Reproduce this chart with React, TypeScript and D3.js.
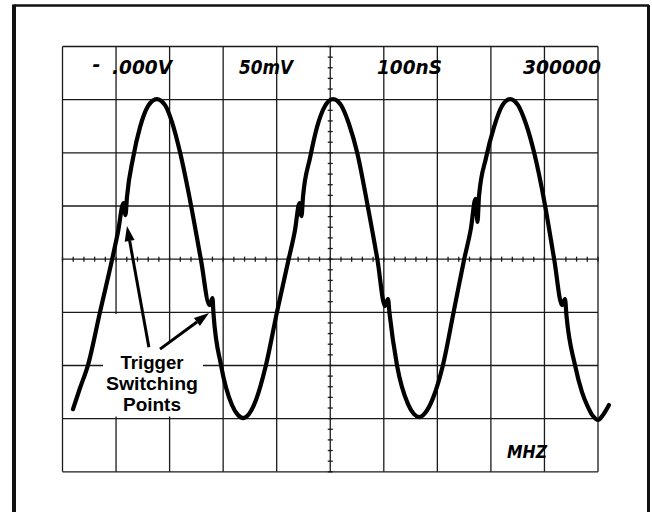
import React from "react";
import * as d3 from "d3";

// Oscilloscope readout (top row) and frequency unit
const readoutOffset = "- .000V";
const readoutVolts = "50mV";
const readoutTime = "100nS";
const readoutCount = "300000";
const readoutUnit = "MHZ";

// Graticule: 10 x 100 ns horizontally, 8 x 50 mV vertically
const timeTicksNs = d3.range(0, 1001, 100);
const voltTicksMv = d3.range(-200, 201, 50);
const minorTimeTicksNs = d3.range(0, 1001, 20);
const minorVoltTicksMv = d3.range(-200, 201, 10);

// Trace (time in ns, amplitude in mV)
const traceTimeNs = [
  19.6, 32.7, 47.6, 70.0, 92.4, 103.6, 113.9, 117.6, 120.4, 131.7, 144.8, 159.7, 175.9,
  191.5, 204.5, 219.4, 239.9, 258.6, 274.5, 280.1, 282.0, 296.0, 316.5, 327.7, 337.6,
  348.3, 361.3, 380.0, 400.5, 422.0, 434.2, 442.6, 446.3, 449.1, 462.2, 475.3, 490.2, 505.2,
  520.1, 535.0, 550.0, 569.6, 588.2, 602.2, 607.8, 610.6, 624.6, 645.2, 656.4, 666.3,
  676.9, 691.9, 710.5, 731.1, 749.8, 762.8, 771.2, 775.0, 777.8, 790.8, 805.8, 820.7, 835.7,
  850.6, 865.6, 880.5, 901.0, 918.4, 932.8, 938.4, 941.2, 957.0, 970.1, 981.3, 990.6, 1000.0,
  1009.3, 1020.5,
];
const traceMilliVolts = [
  -141.1, -121.2, -99.6, -49.8, -0.8, 25.5, 52.8, 41.5, 58.4, 95.1, 124.2, 144.0, 150.6,
  144.9, 128.9, 100.7, 50.9, -0.8, -43.2, -36.6, -51.6, -99.6, -137.2, -146.6, -149.5,
  -145.7, -132.5, -99.6, -49.8, -0.8, 27.4, 52.8, 40.5, 58.4, 95.1, 124.2, 144.0, 150.6,
  144.9, 127.1, 100.7, 50.9, -0.8, -44.1, -37.5, -50.7, -99.6, -136.3, -145.7, -148.5,
  -144.8, -130.7, -99.6, -47.9, -0.8, 29.3, 56.7, 35.1, 59.4, 95.1, 124.2, 144.0, 150.6,
  144.9, 127.1, 100.7, 50.9, -0.8, -43.2, -37.5, -53.5, -99.6, -125.0, -139.1, -147.6, -151.3,
  -146.6, -137.2,
];

// Annotation
const labelLines = ["Trigger", "Switching", "Points"];
const arrowTailsNs = [161.3, 182.1];
const arrowTailsMv = [-82.9, -84.6];
const arrowTipsNs = [120.4, 273.6];
const arrowTipsMv = [31.1, -50.7];

const W = 652;
const H = 512;
const GX0 = 62.5;
const GX1 = 598;
const GY0 = 46.5;
const GY1 = 471.8;

export default function App() {
  const x = d3.scaleLinear().domain([0, 1000]).range([GX0, GX1]);
  const y = d3.scaleLinear().domain([-200, 200]).range([GY1, GY0]);

  const pts: [number, number][] = traceTimeNs.map((t, i) => [t, traceMilliVolts[i]]);
  const line = d3
    .line<[number, number]>()
    .x((d) => x(d[0]))
    .y((d) => y(d[1]))
    .curve(d3.curveMonotoneX);

  const readFont = {
    fontFamily: "'DejaVu Sans', sans-serif",
    fontWeight: 700,
    fontStyle: "italic" as const,
  };

  const arrows = arrowTailsNs.map((t, i) => {
    const x1 = x(t);
    const y1 = y(arrowTailsMv[i]);
    const x2 = x(arrowTipsNs[i]);
    const y2 = y(arrowTipsMv[i]);
    const ang = Math.atan2(y2 - y1, x2 - x1);
    const len = 15;
    const half = 5;
    const bx = x2 - len * Math.cos(ang);
    const by = y2 - len * Math.sin(ang);
    const px = -Math.sin(ang) * half;
    const py = Math.cos(ang) * half;
    return { x1, y1, bx, by, x2, y2, px, py };
  });

  const cx = x(500);
  const cy = y(0);
  const labelCx = x(167.1);
  const labelBase = [-102.9, -122.6, -142.4];
  const labelLens = [63, 92, 58];

  return (
    <svg
      width={W}
      height={H}
      style={{ position: "fixed", left: 0, top: 0, background: "#fff" }}
    >
      <rect x={0} y={0} width={W} height={H} fill="#fff" />
      {/* outer frame */}
      <line x1={14} y1={5.5} x2={649} y2={5.5} stroke="#111" strokeWidth={2.6} />
      <line x1={14} y1={4.5} x2={14} y2={H} stroke="#111" strokeWidth={4} />
      <line x1={648.5} y1={5} x2={648.5} y2={H} stroke="#111" strokeWidth={3} />

      {/* graticule */}
      <g stroke="#1a1a1a" strokeWidth={1.3}>
        {timeTicksNs.map((t) => (
          <line key={"v" + t} x1={x(t)} x2={x(t)} y1={GY0} y2={GY1} />
        ))}
        {voltTicksMv.map((v) => (
          <line key={"h" + v} x1={GX0} x2={GX1} y1={y(v)} y2={y(v)} />
        ))}
        {minorTimeTicksNs.map((t) => (
          <line key={"mt" + t} x1={x(t)} x2={x(t)} y1={cy - 2.5} y2={cy + 2.5} />
        ))}
        {minorVoltTicksMv.map((v) => (
          <line key={"mv" + v} x1={cx - 2.5} x2={cx + 2.5} y1={y(v)} y2={y(v)} />
        ))}
      </g>

      {/* paste-up label mask */}
      <path
        d={`M103,314 L140,314 L158,341 L203,341 L203,416.5 L103,416.5 Z`}
        fill="#fff"
      />

      {/* trace */}
      <path
        d={line(pts) || ""}
        fill="none"
        stroke="#000"
        strokeWidth={4.2}
        strokeLinejoin="round"
        strokeLinecap="round"
      />

      {/* readouts */}
      <text x={92.5} y={70.5} fontSize={19} {...readFont}>-</text>
      <text x={112} y={73.5} fontSize={19} textLength={60} lengthAdjust="spacingAndGlyphs" {...readFont}>
        {readoutOffset.slice(2)}
      </text>
      <text x={239} y={73.5} fontSize={19} textLength={54} lengthAdjust="spacingAndGlyphs" {...readFont}>
        {readoutVolts}
      </text>
      <text x={377} y={73.5} fontSize={19} textLength={65} lengthAdjust="spacingAndGlyphs" {...readFont}>
        {readoutTime}
      </text>
      <text x={523} y={73.5} fontSize={19} textLength={78} lengthAdjust="spacingAndGlyphs" {...readFont}>
        {readoutCount}
      </text>
      <text x={507} y={458} fontSize={17} textLength={40} lengthAdjust="spacingAndGlyphs" {...readFont}>
        {readoutUnit}
      </text>

      {/* annotation label */}
      {labelLines.map((s, i) => (
        <text
          key={s}
          x={labelCx}
          y={y(labelBase[i])}
          textAnchor="middle"
          fontFamily="'Liberation Sans', Arial, sans-serif"
          fontWeight={700}
          fontSize={19}
          textLength={labelLens[i]}
          lengthAdjust="spacingAndGlyphs"
          fill="#000"
        >
          {s}
        </text>
      ))}

      {/* arrows */}
      {arrows.map((a, i) => (
        <g key={"a" + i}>
          <line x1={a.x1} y1={a.y1} x2={a.bx} y2={a.by} stroke="#000" strokeWidth={3} />
          <path
            d={`M${a.x2},${a.y2} L${a.bx + a.px},${a.by + a.py} L${a.bx - a.px},${a.by - a.py} Z`}
            fill="#000"
          />
        </g>
      ))}
    </svg>
  );
}
